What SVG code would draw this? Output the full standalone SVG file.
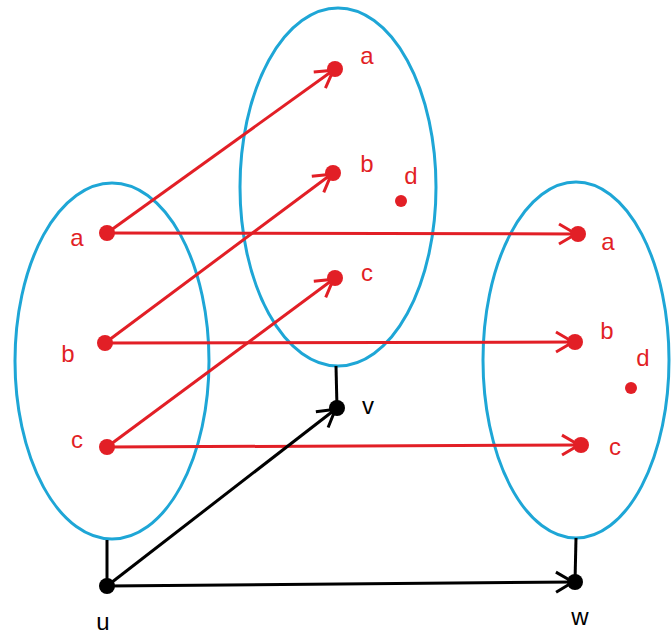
<svg xmlns="http://www.w3.org/2000/svg" width="671" height="634" viewBox="0 0 671 634">
<defs>
<style>
.set{fill:none;stroke:#1ea6d6;stroke-width:3}
.r{stroke:#e21f26;stroke-width:3;fill:none}
.k{stroke:#000;stroke-width:3;fill:none}
.rd{fill:#e21f26}
.kd{fill:#000}
.lr{font-family:"Liberation Sans",Arial,sans-serif;font-size:24px;fill:#e21f26;text-anchor:middle}
.lk{font-family:"Liberation Sans",Arial,sans-serif;font-size:24px;fill:#000;text-anchor:middle}
</style>
<marker id="ar" viewBox="-26 -14 30 28" refX="-3" refY="0" markerWidth="30" markerHeight="28" markerUnits="userSpaceOnUse" orient="auto">
<path d="M-22,-10 L-5,0 L-22,10" fill="none" stroke="#e21f26" stroke-width="3"/>
</marker>
<marker id="ak" viewBox="-26 -14 30 28" refX="-3" refY="0" markerWidth="30" markerHeight="28" markerUnits="userSpaceOnUse" orient="auto">
<path d="M-22,-10 L-5,0 L-22,10" fill="none" stroke="#000" stroke-width="3"/>
</marker>
</defs>
<rect width="671" height="634" fill="#fff"/>
<g id="set-u"><ellipse class="set" cx="112" cy="361" rx="97" ry="178"/></g>
<g id="set-v"><ellipse class="set" cx="338" cy="187" rx="98" ry="179"/></g>
<g id="set-w"><ellipse class="set" cx="576" cy="360" rx="93" ry="178"/></g>
<g id="connectors">
<line class="r" x1="107" y1="233" x2="335" y2="69" marker-end="url(#ar)"/>
<line class="r" x1="107" y1="233" x2="578" y2="234" marker-end="url(#ar)"/>
<line class="r" x1="105" y1="343" x2="333" y2="173" marker-end="url(#ar)"/>
<line class="r" x1="105" y1="343" x2="575" y2="342" marker-end="url(#ar)"/>
<line class="r" x1="107" y1="447" x2="335" y2="278" marker-end="url(#ar)"/>
<line class="r" x1="107" y1="447" x2="581" y2="445" marker-end="url(#ar)"/>
<line class="k" x1="107" y1="540" x2="107" y2="586"/>
<line class="k" x1="336" y1="366" x2="337" y2="408"/>
<line class="k" x1="576" y1="538" x2="575" y2="582"/>
<line class="k" x1="107" y1="586" x2="337" y2="408" marker-end="url(#ak)"/>
<line class="k" x1="107" y1="586" x2="575" y2="582" marker-end="url(#ak)"/>
</g>
<g id="ua"><circle class="rd" cx="107" cy="233" r="8"/><text class="lr" x="77" y="246">a</text></g>
<g id="ub"><circle class="rd" cx="105" cy="343" r="8"/><text class="lr" x="68" y="362">b</text></g>
<g id="uc"><circle class="rd" cx="107" cy="447" r="8"/><text class="lr" x="77" y="448">c</text></g>
<g id="va"><circle class="rd" cx="335" cy="69" r="8"/><text class="lr" x="367" y="64">a</text></g>
<g id="vb"><circle class="rd" cx="333" cy="173" r="8"/><text class="lr" x="367" y="172">b</text></g>
<g id="vd"><circle class="rd" cx="401" cy="201" r="6"/><text class="lr" x="411" y="184">d</text></g>
<g id="vc"><circle class="rd" cx="335" cy="278" r="8"/><text class="lr" x="367" y="281">c</text></g>
<g id="wa"><circle class="rd" cx="578" cy="234" r="8"/><text class="lr" x="608" y="250">a</text></g>
<g id="wb"><circle class="rd" cx="575" cy="342" r="8"/><text class="lr" x="607" y="339">b</text></g>
<g id="wd"><circle class="rd" cx="631" cy="388" r="6"/><text class="lr" x="643" y="366">d</text></g>
<g id="wc"><circle class="rd" cx="581" cy="445" r="8"/><text class="lr" x="615" y="455">c</text></g>
<g id="u"><circle class="kd" cx="107" cy="586" r="8"/><text class="lk" x="103" y="630">u</text></g>
<g id="v"><circle class="kd" cx="337" cy="408" r="8"/><text class="lk" x="368" y="414">v</text></g>
<g id="w"><circle class="kd" cx="575" cy="582" r="8"/><text class="lk" x="580" y="625">w</text></g>
</svg>
